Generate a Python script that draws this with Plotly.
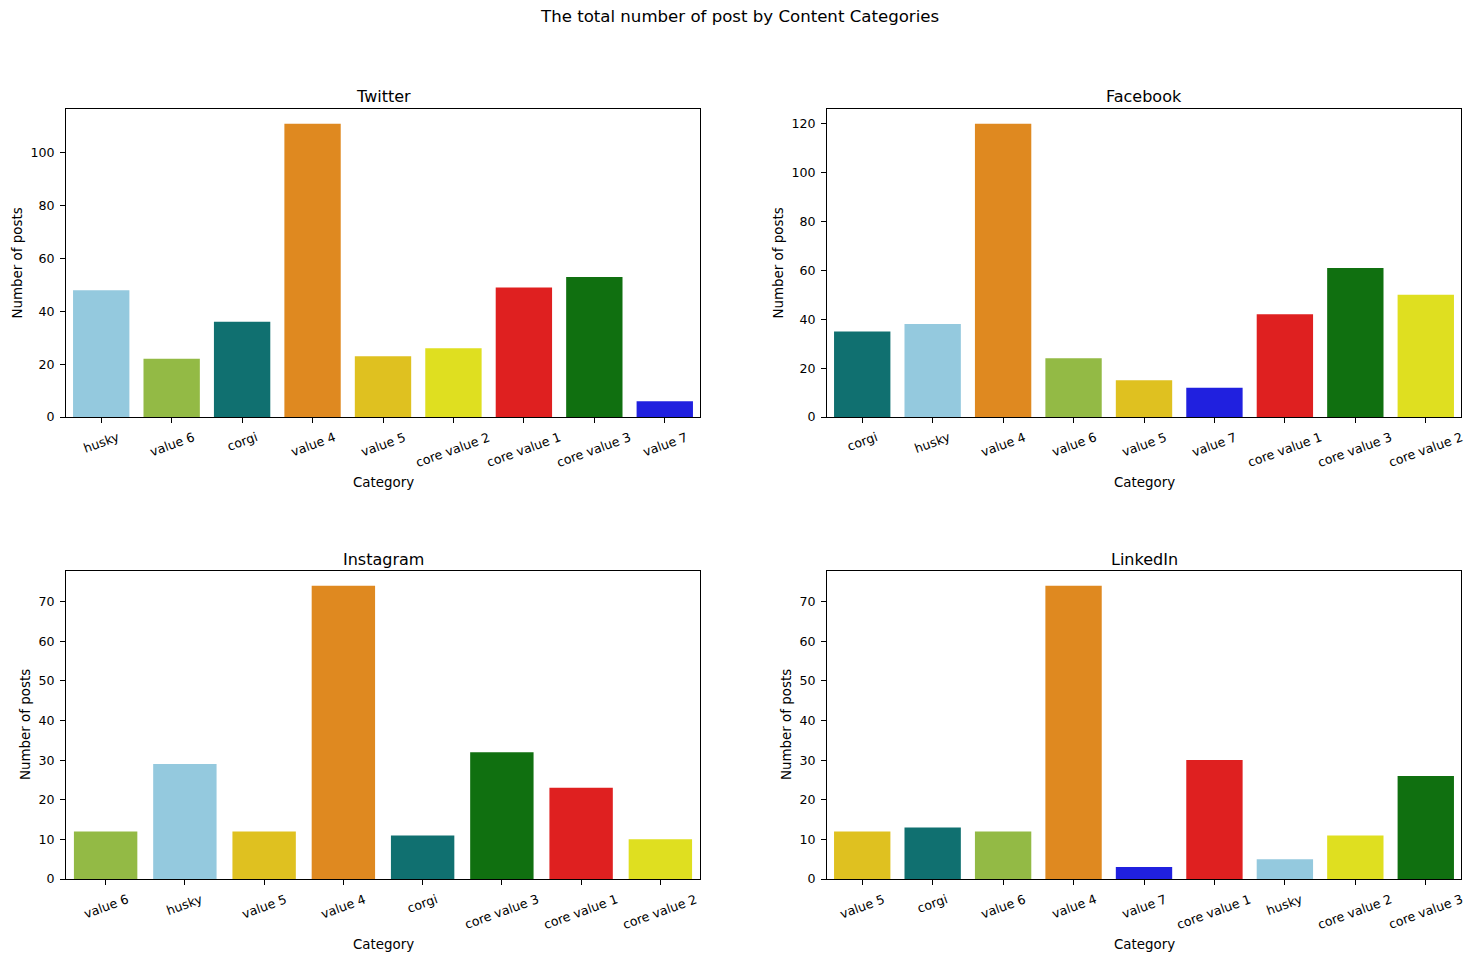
import colorsys
import plotly.graph_objects as go

# ---- data ----
twitter_cats = ["husky", "value 6", "corgi", "value 4", "value 5", "core value 2", "core value 1", "core value 3", "value 7"]
twitter_vals = [48, 22, 36, 111, 23, 26, 49, 53, 6]

facebook_cats = ["corgi", "husky", "value 4", "value 6", "value 5", "value 7", "core value 1", "core value 3", "core value 2"]
facebook_vals = [35, 38, 120, 24, 15, 12, 42, 61, 50]

instagram_cats = ["value 6", "husky", "value 5", "value 4", "corgi", "core value 3", "core value 1", "core value 2"]
instagram_vals = [12, 29, 12, 74, 11, 32, 23, 10]

linkedin_cats = ["value 5", "corgi", "value 6", "value 4", "value 7", "core value 1", "husky", "core value 2", "core value 3"]
linkedin_vals = [12, 13, 12, 74, 3, 30, 5, 11, 26]

platform_titles = ["Twitter", "Facebook", "Instagram", "LinkedIn"]
y_dticks = [20, 20, 10, 10]

base_colors = {
    "husky": (135, 206, 235),        # skyblue
    "value 6": (154, 205, 50),       # yellowgreen
    "corgi": (0, 128, 128),          # teal
    "value 4": (255, 140, 0),        # darkorange
    "value 5": (255, 215, 0),        # gold
    "core value 2": (255, 255, 0),   # yellow
    "core value 1": (255, 0, 0),     # red
    "core value 3": (0, 128, 0),     # green
    "value 7": (0, 0, 255),          # blue
}


def desat(rgb, prop=0.75):
    r, g, b = [c / 255 for c in rgb]
    h, l, s = colorsys.rgb_to_hls(r, g, b)
    r, g, b = colorsys.hls_to_rgb(h, l, s * prop)
    return "rgb(%d,%d,%d)" % (round(r * 255), round(g * 255), round(b * 255))


palette = {k: desat(v) for k, v in base_colors.items()}

W, H = 1478, 961
FONT = "DejaVu Sans"
TICK_FS = 12.6
LABEL_FS = 13.4
TITLE_FS = 16.0
SUP_FS = 16.6

# axes boxes in pixels (left, right, top, bottom)
boxes = [(66, 700, 109, 417), (827, 1461, 109, 417), (66, 700, 571, 879), (827, 1461, 571, 879)]
ylab_x = [16.5, 777.5, 25, 786]

series = [(twitter_cats, twitter_vals), (facebook_cats, facebook_vals),
          (instagram_cats, instagram_vals), (linkedin_cats, linkedin_vals)]

fig = go.Figure()
annotations = []
for i, ((cats, vals), box) in enumerate(zip(series, boxes)):
    n = i + 1
    xa = "x" if n == 1 else "x%d" % n
    ya = "y" if n == 1 else "y%d" % n
    fig.add_trace(go.Bar(
        x=cats, y=vals, xaxis=xa, yaxis=ya,
        marker=dict(color=[palette[c] for c in cats], line=dict(width=0)),
        showlegend=False,
    ))
    l, r, t, b = box
    xdom = [l / W, r / W]
    ydom = [1 - b / H, 1 - t / H]
    common = dict(showline=True, linecolor="black", linewidth=1.1, mirror=True,
                  ticks="outside", ticklen=5, tickwidth=1.1, tickcolor="black",
                  showgrid=False, zeroline=False,
                  tickfont=dict(family=FONT, size=TICK_FS, color="black"))
    fig.layout["xaxis" if n == 1 else "xaxis%d" % n] = dict(
        domain=xdom, anchor=ya, type="category", range=[-0.5, len(cats) - 0.5],
        showticklabels=False, automargin=False, **common)
    fig.layout["yaxis" if n == 1 else "yaxis%d" % n] = dict(
        domain=ydom, anchor=xa, range=[0, max(vals) * 1.05], dtick=y_dticks[i],
        ticklabelstandoff=3, automargin=False, **common)
    # rotated category tick labels, centred under each tick
    for c in cats:
        annotations.append(dict(text=c, x=c, xref=xa, y=1 - (b + 10) / H, yref="paper",
                                showarrow=False, textangle=-20,
                                font=dict(family=FONT, size=TICK_FS, color="black"),
                                xanchor="center", yanchor="top"))
    cx = (l + r) / 2
    annotations.append(dict(text=platform_titles[i], x=cx / W, y=1 - (t - 12) / H,
                            xref="paper", yref="paper", showarrow=False,
                            font=dict(family=FONT, size=TITLE_FS, color="black"),
                            xanchor="center", yanchor="middle"))
    annotations.append(dict(text="Category", x=cx / W, y=1 - (b + 65) / H,
                            xref="paper", yref="paper", showarrow=False,
                            font=dict(family=FONT, size=LABEL_FS, color="black"),
                            xanchor="center", yanchor="middle"))
    annotations.append(dict(text="Number of posts", x=ylab_x[i] / W, y=1 - ((t + b) / 2) / H,
                            xref="paper", yref="paper", showarrow=False, textangle=-90,
                            font=dict(family=FONT, size=LABEL_FS, color="black"),
                            xanchor="center", yanchor="middle"))

annotations.append(dict(text="The total number of post by Content Categories", x=0.5, y=1 - 16.5 / H,
                        xref="paper", yref="paper", showarrow=False,
                        font=dict(family=FONT, size=SUP_FS, color="black"),
                        xanchor="center", yanchor="middle"))

fig.update_layout(
    width=W, height=H, margin=dict(l=0, r=0, t=0, b=0),
    paper_bgcolor="white", plot_bgcolor="white",
    bargap=0.2, annotations=annotations,
    font=dict(family=FONT, size=TICK_FS, color="black"),
)

fig.write_html("out.html")
